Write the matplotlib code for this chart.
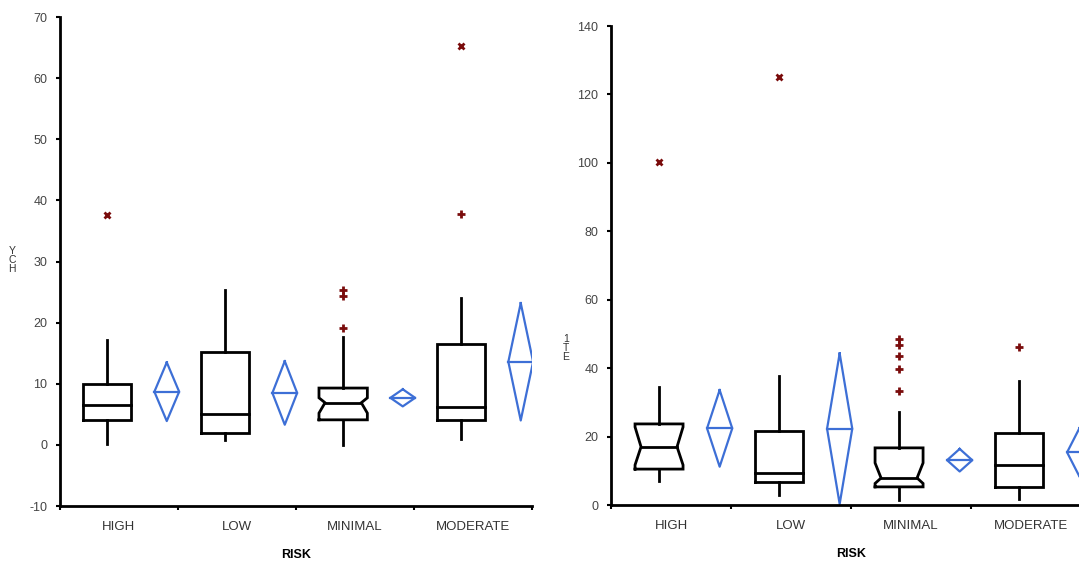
import numpy as np
import matplotlib
matplotlib.use('Agg')
import matplotlib.pyplot as plt

plt.rcParams['font.family'] = ['Liberation Sans', 'DejaVu Sans']
plt.rcParams['axes.unicode_minus'] = False

categories = ['HIGH', 'LOW', 'MINIMAL', 'MODERATE']

# left panel: YCH by RISK
ych_q1 = [4.1, 2.0, 4.1, 4.1]
ych_med = [6.5, 5.0, 6.9, 6.2]
ych_q3 = [10.0, 15.2, 9.3, 16.5]
ych_whislo = [0.2, 0.8, 0.0, 1.0]
ych_whishi = [17.2, 25.4, 17.7, 24.1]
ych_notch_lo = [np.nan, np.nan, 5.2, np.nan]
ych_notch_hi = [np.nan, np.nan, 7.7, np.nan]
ych_mild = [[], [], [19.1, 24.3, 25.4], [37.8]]
ych_far = [[37.6], [], [], [65.3]]
ych_mean = [8.7, 8.5, 7.7, 13.6]
ych_ci = [4.8, 5.2, 1.4, 9.6]

# right panel: 1TE by RISK
ite_q1 = [10.5, 6.7, 5.3, 5.3]
ite_med = [17.0, 9.4, 7.9, 11.7]
ite_q3 = [23.7, 21.6, 16.7, 21.0]
ite_whislo = [7.0, 2.9, 1.5, 1.8]
ite_whishi = [34.5, 37.7, 27.2, 36.3]
ite_notch_lo = [11.7, np.nan, 6.3, np.nan]
ite_notch_hi = [22.8, np.nan, 12.3, np.nan]
ite_mild = [[], [], [33.3, 39.8, 43.6, 46.8, 48.5], [46.2]]
ite_far = [[100.3], [125.0], [], []]
ite_mean = [22.4, 22.3, 13.1, 15.4]
ite_ci = [11.2, 22.0, 3.3, 7.2]

BOX_C = '#000000'
OUT_C = '#7a0c0c'
DIA_C = '#3d6fd6'


def draw_panel(ax, q1, med, q3, wlo, whi, nlo, nhi, mild, far, mean, ci,
               ylim, yticks, box_hw=0.205, dia_hw=0.105):
    for i in range(len(categories)):
        xc = i + 0.40
        l, r = xc - box_hw, xc + box_hw
        if np.isnan(nlo[i]):
            xs = [l, r, r, l, l]
            ys = [q1[i], q1[i], q3[i], q3[i], q1[i]]
            ax.plot(xs, ys, color=BOX_C, lw=2, solid_joinstyle='miter')
            ax.plot([l, r], [med[i], med[i]], color=BOX_C, lw=2)
        else:
            # notched box
            d = box_hw * 0.25
            xs = [l, r, r, r - d, r, r, l, l, l + d, l, l]
            ys = [q1[i], q1[i], nlo[i], med[i], nhi[i], q3[i], q3[i],
                  nhi[i], med[i], nlo[i], q1[i]]
            ax.plot(xs, ys, color=BOX_C, lw=2, solid_joinstyle='miter')
            ax.plot([l + d, r - d], [med[i], med[i]], color=BOX_C, lw=2)
        ax.plot([xc, xc], [q3[i], whi[i]], color=BOX_C, lw=2)
        ax.plot([xc, xc], [wlo[i], q1[i]], color=BOX_C, lw=2)
        if mild[i]:
            ax.plot([xc] * len(mild[i]), mild[i], ls='none', marker='+',
                    ms=6, mew=2, color=OUT_C)
        if far[i]:
            ax.plot([xc] * len(far[i]), far[i], ls='none', marker='x',
                    ms=4, mew=2, color=OUT_C)
        # mean diamond
        dc = i + 0.905
        m, h = mean[i], ci[i]
        ax.plot([dc, dc + dia_hw, dc, dc - dia_hw, dc],
                [m + h, m, m - h, m, m + h], color=DIA_C, lw=1.6)
        ax.plot([dc - dia_hw, dc + dia_hw], [m, m], color=DIA_C, lw=1.6)

    ax.set_xlim(0, 4)
    ax.set_ylim(*ylim)
    ax.set_yticks(yticks)
    ax.set_xticks([0, 1, 2, 3, 4])
    ax.set_xticklabels([])
    ax.set_xticks(np.arange(4) + 0.5, minor=True)
    ax.set_xticklabels(categories, minor=True)
    ax.tick_params(axis='x', which='minor', length=0, pad=11,
                   labelsize=9.5, labelcolor='#333333')
    ax.tick_params(axis='x', which='major', length=3, width=1.5)
    ax.tick_params(axis='y', length=3, width=1.5, labelsize=9,
                   labelcolor='#444444', pad=6)
    for s in ['top', 'right']:
        ax.spines[s].set_visible(False)
    for s in ['left', 'bottom']:
        ax.spines[s].set_linewidth(2)
    ax.set_xlabel('RISK', fontsize=9, fontweight='bold', labelpad=11)


fig = plt.figure(figsize=(10.79, 5.63), dpi=100)
ax1 = fig.add_axes([0.0556, 0.1012, 0.4374, 0.8686])
ax2 = fig.add_axes([0.5663, 0.1030, 0.4449, 0.8508])

draw_panel(ax1, ych_q1, ych_med, ych_q3, ych_whislo, ych_whishi,
           ych_notch_lo, ych_notch_hi, ych_mild, ych_far, ych_mean, ych_ci,
           (-10, 70), np.arange(-10, 71, 10))
draw_panel(ax2, ite_q1, ite_med, ite_q3, ite_whislo, ite_whishi,
           ite_notch_lo, ite_notch_hi, ite_mild, ite_far, ite_mean, ite_ci,
           (0, 140), np.arange(0, 141, 20), box_hw=0.2)

fig.text(12 / 1079, 1 - 260 / 563, 'Y\nC\nH', fontsize=7.5, ha='center',
         va='center', linespacing=0.9, color='#333333')
fig.text(566 / 1079, 1 - 348 / 563, '1\nT\nE', fontsize=7.5, ha='center',
         va='center', linespacing=0.9, color='#333333')

fig.savefig('out.png', dpi=100)
